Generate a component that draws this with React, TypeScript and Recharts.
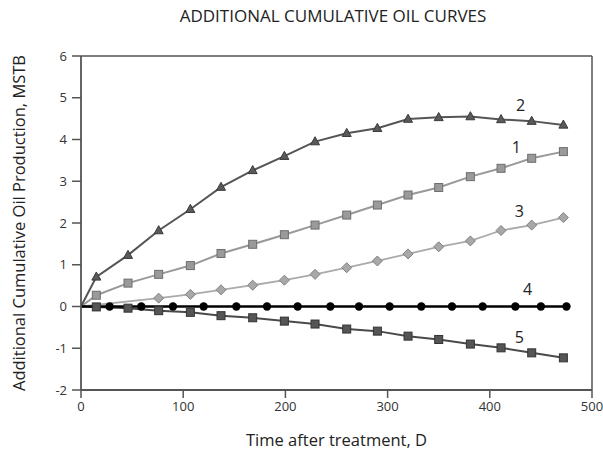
import React from 'react';
import { LineChart, Line, XAxis, YAxis, ReferenceLine, ReferenceDot, Label } from 'recharts';

// Time after treatment, days
const days = [0, 15, 46, 76, 107, 137, 168, 199, 229, 260, 290, 320, 350, 381, 411, 441, 472];
const curve1 = [0, 0.27, 0.56, 0.77, 0.98, 1.27, 1.49, 1.72, 1.95, 2.19, 2.43, 2.67, 2.85, 3.11, 3.31, 3.55, 3.71];
const curve2 = [0, 0.71, 1.23, 1.82, 2.33, 2.86, 3.26, 3.6, 3.95, 4.15, 4.27, 4.49, 4.53, 4.55, 4.48, 4.44, 4.35];
const curve3 = [0, null, null, 0.2, 0.29, 0.4, 0.51, 0.63, 0.77, 0.93, 1.09, 1.26, 1.43, 1.57, 1.82, 1.95, 2.13];
const curve5 = [0, -0.01, -0.04, -0.1, -0.14, -0.22, -0.27, -0.35, -0.42, -0.54, -0.59, -0.71, -0.79, -0.9, -0.99, -1.11, -1.23];
const days4 = [0, 28, 59, 90, 120, 152, 182, 212, 244, 272, 302, 333, 363, 393, 425, 450, 475];
const curve4 = [0, 0, 0, 0, 0, 0, 0, 0, 0, 0, 0, 0, 0, 0, 0, 0, 0];

const xTicks = [0, 100, 200, 300, 400, 500];
const yTicks = [-2, -1, 0, 1, 2, 3, 4, 5, 6];

const curveNames = ['1', '2', '3', '4', '5'];
const nameAnchorX = [426, 430, 429, 437, 429];
const nameAnchorY = [3.82, 4.83, 2.29, 0.42, -0.73];

const TITLE = 'ADDITIONAL CUMULATIVE OIL CURVES';
const X_LABEL = 'Time after treatment, D';
const Y_LABEL = 'Additional Cumulative Oil Production, MSTB';

const FONT = '"Open Sans", "Noto Sans", sans-serif';

const toPts = (xs: number[], ys: (number | null)[]) => xs.map((x, i) => ({ x, y: ys[i] }));

const d1 = toPts(days, curve1);
const d2 = toPts(days, curve2);
const d3 = toPts(days, curve3);
const d4 = toPts(days4, curve4);
const d5 = toPts(days, curve5);

const skip = (p: any) => p.index === 0 || p.value == null || p.cx == null || p.cy == null;

const squareDot = (fill: string, stroke: string, s: number) => (p: any) => {
  if (skip(p)) return <g key={p.key ?? `e${p.index}`} />;
  return <rect key={p.key ?? `s${p.index}`} x={p.cx - s / 2} y={p.cy - s / 2} width={s} height={s} fill={fill} stroke={stroke} strokeWidth={1} />;
};
const triDot = (fill: string, stroke: string, s: number) => (p: any) => {
  if (skip(p)) return <g key={p.key ?? `e${p.index}`} />;
  const h = s * 0.9;
  const pts = `${p.cx},${p.cy - h * 0.6} ${p.cx - s / 2},${p.cy + h * 0.4} ${p.cx + s / 2},${p.cy + h * 0.4}`;
  return <polygon key={p.key ?? `t${p.index}`} points={pts} fill={fill} stroke={stroke} strokeWidth={1} />;
};
const diaDot = (fill: string, stroke: string, s: number) => (p: any) => {
  if (skip(p)) return <g key={p.key ?? `e${p.index}`} />;
  const r = s / 2;
  const pts = `${p.cx},${p.cy - r} ${p.cx + r},${p.cy} ${p.cx},${p.cy + r} ${p.cx - r},${p.cy}`;
  return <polygon key={p.key ?? `d${p.index}`} points={pts} fill={fill} stroke={stroke} strokeWidth={1} />;
};
const circDot = (fill: string, r: number) => (p: any) => {
  if (skip(p)) return <g key={p.key ?? `e${p.index}`} />;
  return <circle key={p.key ?? `c${p.index}`} cx={p.cx} cy={p.cy} r={r} fill={fill} />;
};

const tickStyle = { fontSize: 13, fill: '#333', fontFamily: FONT };
const labelStyle = { fontSize: 16.5, fill: '#222', fontFamily: FONT };

export default function App() {
  return (
    <div style={{ position: 'absolute', left: 0, top: 0, width: 603, height: 452, background: '#fff' }}>
      <div
        style={{
          position: 'absolute',
          top: 6,
          left: 0,
          width: 666,
          textAlign: 'center',
          fontFamily: FONT,
          fontSize: 17,
          lineHeight: '20px',
          color: '#222',
          whiteSpace: 'nowrap',
        }}
      >
        {TITLE}
      </div>
      <LineChart width={603} height={452} margin={{ top: 56, right: 11, bottom: 0, left: 0 }}>
        <XAxis
          type="number"
          dataKey="x"
          domain={[0, 500]}
          ticks={xTicks}
          allowDataOverflow
          tickSize={8}
          tickMargin={4}
          height={62}
          stroke="#555"
          axisLine={{ stroke: '#555', strokeWidth: 1.8 }}
          tickLine={{ stroke: '#555', strokeWidth: 1.5 }}
          tick={tickStyle}
        >
          <Label value={X_LABEL} position="insideBottom" offset={6} fill="#222" style={labelStyle} />
        </XAxis>
        <YAxis
          type="number"
          domain={[-2, 6]}
          ticks={yTicks}
          allowDataOverflow
          width={81}
          tickSize={9}
          tickMargin={5}
          stroke="#555"
          axisLine={{ stroke: '#555', strokeWidth: 1.8 }}
          tickLine={{ stroke: '#555', strokeWidth: 1.5 }}
          tick={tickStyle}
        >
          <Label
            content={(props: any) => {
              const vb = props.viewBox || { x: 0, y: 56, width: 81, height: 334 };
              const cx = vb.x + 18;
              const cy = vb.y + vb.height / 2;
              return (
                <text
                  x={cx}
                  y={cy}
                  transform={`rotate(-90 ${cx} ${cy})`}
                  textAnchor="middle"
                  dominantBaseline="central"
                  fill="#222"
                  style={labelStyle}
                >
                  {Y_LABEL}
                </text>
              );
            }}
          />
        </YAxis>
        <ReferenceLine y={6} stroke="#555" strokeWidth={1.5} />
        <ReferenceLine x={500} stroke="#555" strokeWidth={1.5} />

        <Line data={d3} dataKey="y" stroke="#aaa" strokeWidth={1.8} connectNulls isAnimationActive={false} dot={diaDot('#a8a8a8', '#808080', 10)} activeDot={false} />
        <Line data={d1} dataKey="y" stroke="#999" strokeWidth={2} isAnimationActive={false} dot={squareDot('#9a9a9a', '#6e6e6e', 8)} activeDot={false} />
        <Line data={d2} dataKey="y" stroke="#555" strokeWidth={2} isAnimationActive={false} dot={triDot('#5a5a5a', '#3a3a3a', 9)} activeDot={false} />
        <Line data={d5} dataKey="y" stroke="#4a4a4a" strokeWidth={2} isAnimationActive={false} dot={squareDot('#555', '#333', 8)} activeDot={false} />
        <Line data={d4} dataKey="y" stroke="#000" strokeWidth={2.5} isAnimationActive={false} dot={circDot('#000', 4.2)} activeDot={false} />

        {curveNames.map((n, i) => (
          <ReferenceDot
            key={n}
            x={nameAnchorX[i]}
            y={nameAnchorY[i]}
            r={0}
            fill="none"
            stroke="none"
            label={{ value: n, position: 'center', fill: '#222', style: { fontSize: 16, fill: '#222', fontFamily: FONT } }}
          />
        ))}
      </LineChart>
    </div>
  );
}
